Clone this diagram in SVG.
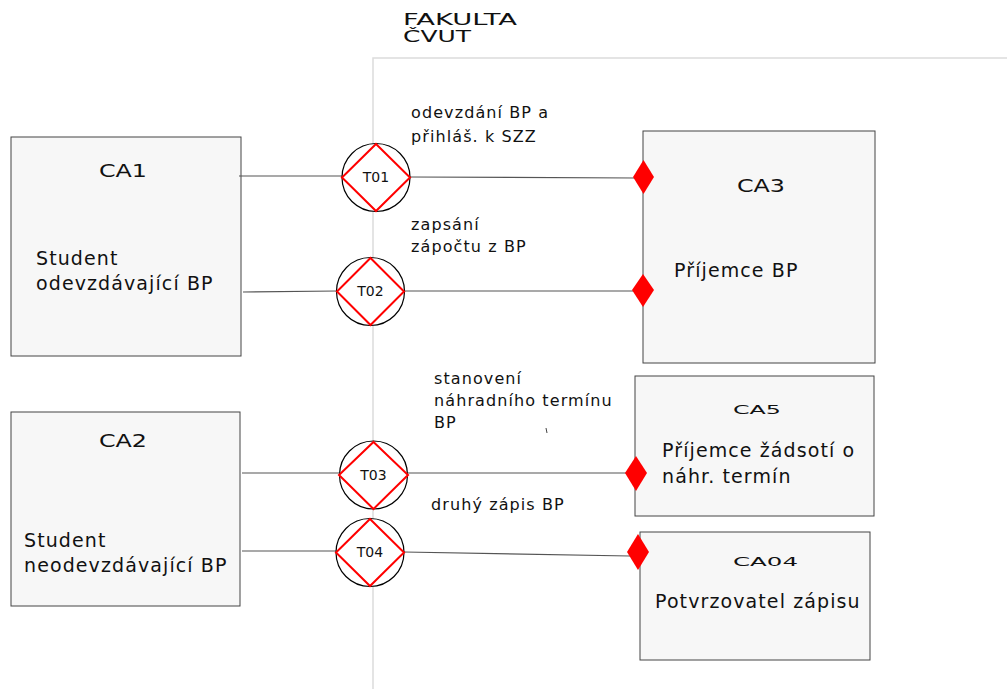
<svg xmlns="http://www.w3.org/2000/svg" width="1007" height="689" viewBox="0 0 1007 689">
  <style>
    .box { fill: #f7f7f7; stroke: #444; stroke-width: 1; }
    .ca { font-family: "DejaVu Sans", sans-serif; font-size: 18px; fill: #111; }
    .cas { font-family: "DejaVu Sans", sans-serif; font-size: 13px; fill: #111; }
    .role { font-family: "DejaVu Sans", sans-serif; font-size: 19px; letter-spacing: 1.1px; fill: #111; }
    .lbl { font-family: "DejaVu Sans", sans-serif; font-size: 16px; letter-spacing: 1.1px; fill: #111; }
    .tx { font-family: "DejaVu Sans", sans-serif; font-size: 14px; fill: #111; text-anchor: middle; }
    .circ { fill: #fff; stroke: #000; stroke-width: 1.2; }
    .dia { fill: none; stroke: #ff0000; stroke-width: 2; }
    .link { stroke: #555; stroke-width: 1.2; fill: none; }
    .end { fill: #ff0000; }
    .frame { stroke: #dcdcdc; stroke-width: 1.5; fill: none; }
  </style>

  <!-- organisation boundary -->
  <g id="boundary">
    <path class="frame" d="M373,689 V58 H1007"/>
    <text x="403" y="25" font-family="DejaVu Sans, sans-serif" font-size="15" fill="#111" textLength="114" lengthAdjust="spacingAndGlyphs">FAKULTA</text>
    <text x="403" y="42" font-family="DejaVu Sans, sans-serif" font-size="15" fill="#111" textLength="68" lengthAdjust="spacingAndGlyphs">ČVUT</text>
  </g>

  <g id="CA1">
    <rect class="box" x="11" y="137" width="230" height="219"/>
    <text class="ca" x="99" y="177" textLength="48" lengthAdjust="spacingAndGlyphs">CA1</text>
    <text class="role" x="36" y="265">Student</text>
    <text class="role" x="36" y="290">odevzdávající BP</text>
  </g>

  <g id="CA2">
    <rect class="box" x="11" y="412" width="229" height="194"/>
    <text class="ca" x="99" y="447" textLength="48" lengthAdjust="spacingAndGlyphs">CA2</text>
    <text class="role" x="24" y="547">Student</text>
    <text class="role" x="24" y="572">neodevzdávající BP</text>
  </g>

  <g id="CA3">
    <rect class="box" x="643" y="131" width="232" height="232"/>
    <text class="ca" x="737" y="192" textLength="48" lengthAdjust="spacingAndGlyphs">CA3</text>
    <text class="role" x="674" y="277">Příjemce BP</text>
  </g>

  <g id="CA5">
    <rect class="box" x="635" y="376" width="239" height="140"/>
    <text class="cas" x="733" y="414" textLength="48" lengthAdjust="spacingAndGlyphs">CA5</text>
    <text class="role" x="662" y="457">Příjemce žádsotí o</text>
    <text class="role" x="662" y="483">náhr. termín</text>
  </g>

  <g id="CA04">
    <rect class="box" x="640" y="532" width="230" height="128"/>
    <text class="cas" x="733" y="566" textLength="65" lengthAdjust="spacingAndGlyphs">CA04</text>
    <text class="role" x="655" y="608">Potvrzovatel zápisu</text>
  </g>

  <!-- transaction links -->
  <g id="connectors">
    <path class="link" d="M239,176 H342"/>
    <path class="link" d="M410,177 L636,178"/>
    <path class="link" d="M243,292 L337,291"/>
    <path class="link" d="M404,291 H636"/>
    <path class="link" d="M242,473 H339"/>
    <path class="link" d="M408,473 H626"/>
    <path class="link" d="M242,551 H336"/>
    <path class="link" d="M404,552 L630,556"/>
    <path class="end" d="M643.5,160 L654,177 L643.5,194 L633,177 Z"/>
    <path class="end" d="M643,274 L654,290 L643,307 L632,290 Z"/>
    <path class="end" d="M636,456 L647,473 L636,491 L625,473 Z"/>
    <path class="end" d="M638,534 L649,552 L638,570 L627,552 Z"/>
    <path d="M546,428 l1,5" stroke="#444" stroke-width="1"/>
  </g>

  <g id="T01">
    <circle class="circ" cx="376" cy="177.5" r="34"/>
    <path class="dia" d="M376,144 L410,177.5 L376,211 L342,177.5 Z"/>
    <text class="tx" x="376" y="182">T01</text>
    <text class="lbl" x="411" y="118">odevzdání BP a</text>
    <text class="lbl" x="411" y="142">přihláš. k SZZ</text>
  </g>

  <g id="T02">
    <circle class="circ" cx="370.5" cy="291.5" r="34"/>
    <path class="dia" d="M370.5,258 L404,291.5 L370.5,325 L337,291.5 Z"/>
    <text class="tx" x="370.5" y="296">T02</text>
    <text class="lbl" x="411" y="230">zapsání</text>
    <text class="lbl" x="411" y="252">zápočtu z BP</text>
  </g>

  <g id="T03">
    <circle class="circ" cx="373.5" cy="475" r="34"/>
    <path class="dia" d="M373.5,442 L408,475 L373.5,509 L339,475 Z"/>
    <text class="tx" x="373.5" y="480">T03</text>
    <text class="lbl" x="434" y="384">stanovení</text>
    <text class="lbl" x="434" y="406">náhradního termínu</text>
    <text class="lbl" x="434" y="428">BP</text>
  </g>

  <g id="T04">
    <circle class="circ" cx="370" cy="552.5" r="34"/>
    <path class="dia" d="M370,519 L404,552.5 L370,586 L336,552.5 Z"/>
    <text class="tx" x="370" y="557">T04</text>
    <text class="lbl" x="431" y="510">druhý zápis BP</text>
  </g>
</svg>
